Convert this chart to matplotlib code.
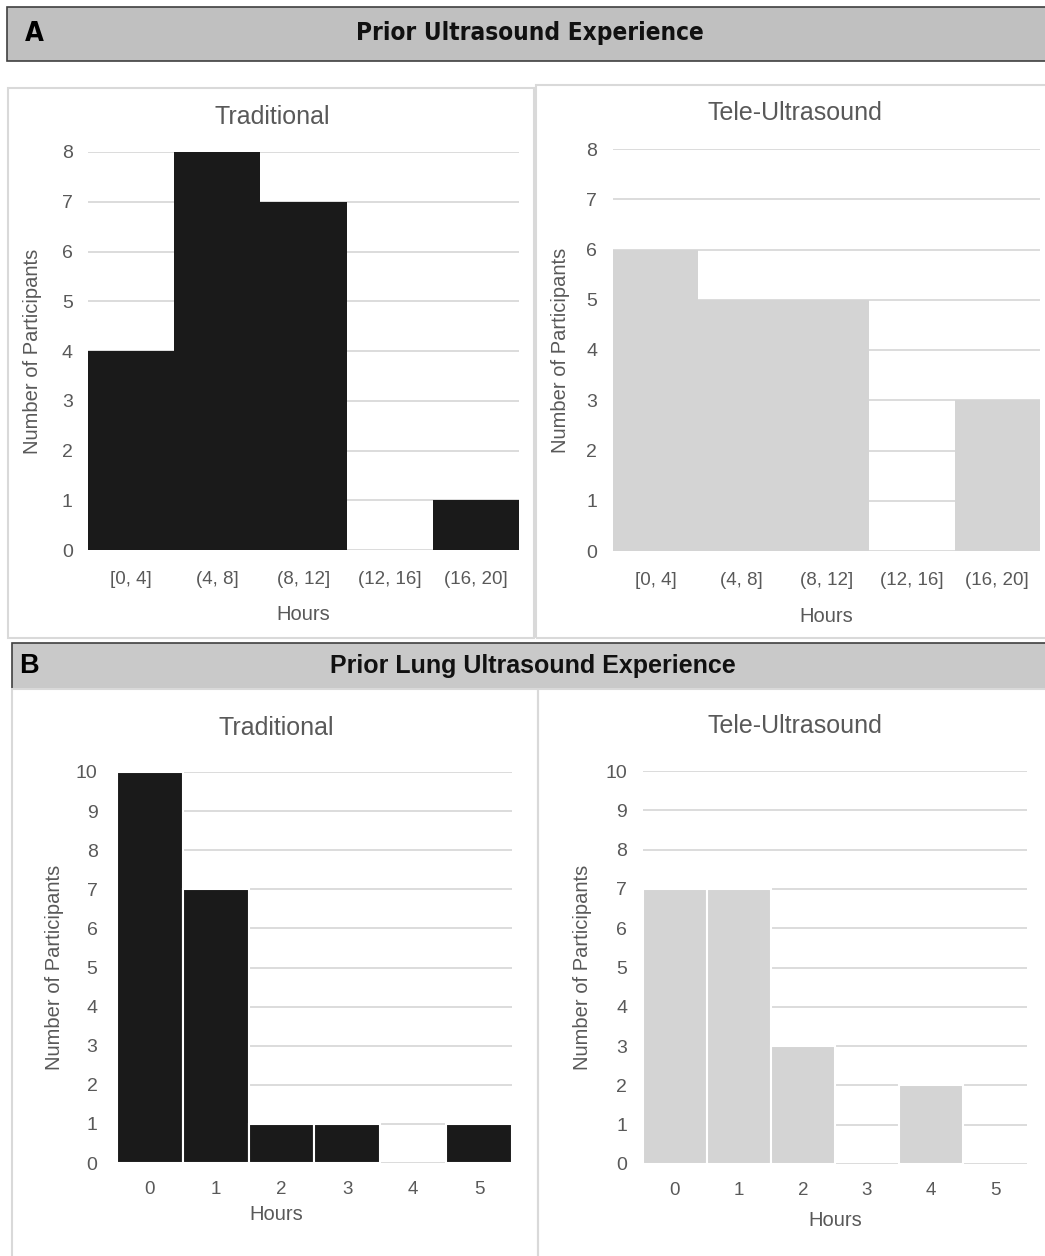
import matplotlib.pyplot as plt
from matplotlib.patches import Rectangle

# --- Data ---
bins_a = ['[0, 4]', '(4, 8]', '(8, 12]', '(12, 16]', '(16, 20]']
trad_a = [4, 8, 7, 0, 1]
tele_a = [6, 5, 5, 0, 3]

hours_b = ['0', '1', '2', '3', '4', '5']
trad_b = [10, 7, 1, 1, 0, 1]
tele_b = [7, 7, 3, 0, 2, 0]

# --- Style ---
W, H = 1045, 1256
TXT = '#595959'
GRID = '#d9d9d9'
BLACK = '#1a1a1a'
LIGHT = '#d4d4d4'

plt.rcParams['font.family'] = ['Liberation Sans', 'DejaVu Sans']

fig = plt.figure(figsize=(W / 100, H / 100), dpi=100)


def fx(x):
    return x / W


def fy(y):
    return 1 - y / H


def box(x0, y0, x1, y1, fc='none', ec=GRID, lw=1.5):
    fig.patches.append(Rectangle((fx(x0), fy(y1)), fx(x1 - x0), (y1 - y0) / H,
                                 transform=fig.transFigure, facecolor=fc,
                                 edgecolor=ec, linewidth=lw, zorder=0))


def hist_panel(rect, cats, vals, color, ymax, title, title_xy, ylab_x, xlab_xy,
               ypad, xpad, edge):
    x0, y0, x1, y1 = rect
    ax = fig.add_axes([fx(x0), fy(y1), fx(x1 - x0), (y1 - y0) / H])
    # white separators only on bars that actually have height
    lws = [1.5 if (edge and v > 0) else 0 for v in vals]
    ax.bar(range(len(cats)), vals, width=1.0, color=color,
           edgecolor='white' if edge else color, linewidth=lws)
    ax.set_xlim(-0.5, len(cats) - 0.5)
    ax.set_ylim(0, ymax)
    ax.set_yticks(range(ymax + 1))
    ax.set_xticks(range(len(cats)))
    ax.set_xticklabels(cats)
    ax.yaxis.grid(True, color=GRID, linewidth=1.3)
    ax.set_axisbelow(True)
    for s in ax.spines.values():
        s.set_visible(False)
    ax.tick_params(axis='y', length=0, pad=ypad, labelsize=14, labelcolor=TXT)
    ax.tick_params(axis='x', length=0, pad=xpad, labelsize=13.5, labelcolor=TXT)
    fig.text(fx(title_xy[0]), fy(title_xy[1]), title, ha='center', va='center',
             fontsize=18, color=TXT)
    fig.text(fx(ylab_x), fy((y0 + y1) / 2), 'Number of Participants', rotation=90,
             ha='center', va='center', fontsize=14.5, color=TXT)
    fig.text(fx(xlab_xy[0]), fy(xlab_xy[1]), 'Hours', ha='center', va='center',
             fontsize=14.5, color=TXT)
    return ax


# --- Panel A ---
box(7, 7, 1050, 61, fc='#c0c0c0', ec='#404040', lw=1.2)
fig.text(fx(25), fy(34), 'A', fontsize=19.5, fontweight='bold', family='DejaVu Sans',
         fontstretch='condensed', ha='left', va='center', color='black')
fig.text(fx(530), fy(33), 'Prior Ultrasound Experience', fontsize=17.5,
         fontweight='bold', family='DejaVu Sans', fontstretch='condensed',
         ha='center', va='center', color='#111111')
box(8, 88, 534, 638)
box(536, 85, 1050, 638)

hist_panel((88, 152, 519, 550), bins_a, trad_a, BLACK, 8, 'Traditional',
           (272, 117), 33, (303, 615), 11, 15, False)
hist_panel((613, 149, 1040, 551), bins_a, tele_a, LIGHT, 8, 'Tele-Ultrasound',
           (795, 113), 560, (826, 617), 11.5, 15, False)

# --- Panel B ---
box(12, 643, 1050, 689, fc='#c9c9c9', ec='#404040', lw=1.2)
fig.text(fx(19), fy(666), 'B', fontsize=19.5, fontweight='bold',
         ha='left', va='center', color='black')
fig.text(fx(533), fy(666), 'Prior Lung Ultrasound Experience', fontsize=18,
         fontweight='bold', ha='center', va='center', color='#111111')
box(12, 689, 538, 1262)
box(538, 689, 1050, 1262)

hist_panel((117, 772, 512, 1163), hours_b, trad_b, BLACK, 10, 'Traditional',
           (276, 728), 55, (276, 1214), 14, 13, True)
hist_panel((643, 771, 1027, 1164), hours_b, tele_b, LIGHT, 10, 'Tele-Ultrasound',
           (795, 726), 583, (835, 1220), 11.5, 13, True)

fig.savefig('out.png', dpi=100, facecolor='white')
